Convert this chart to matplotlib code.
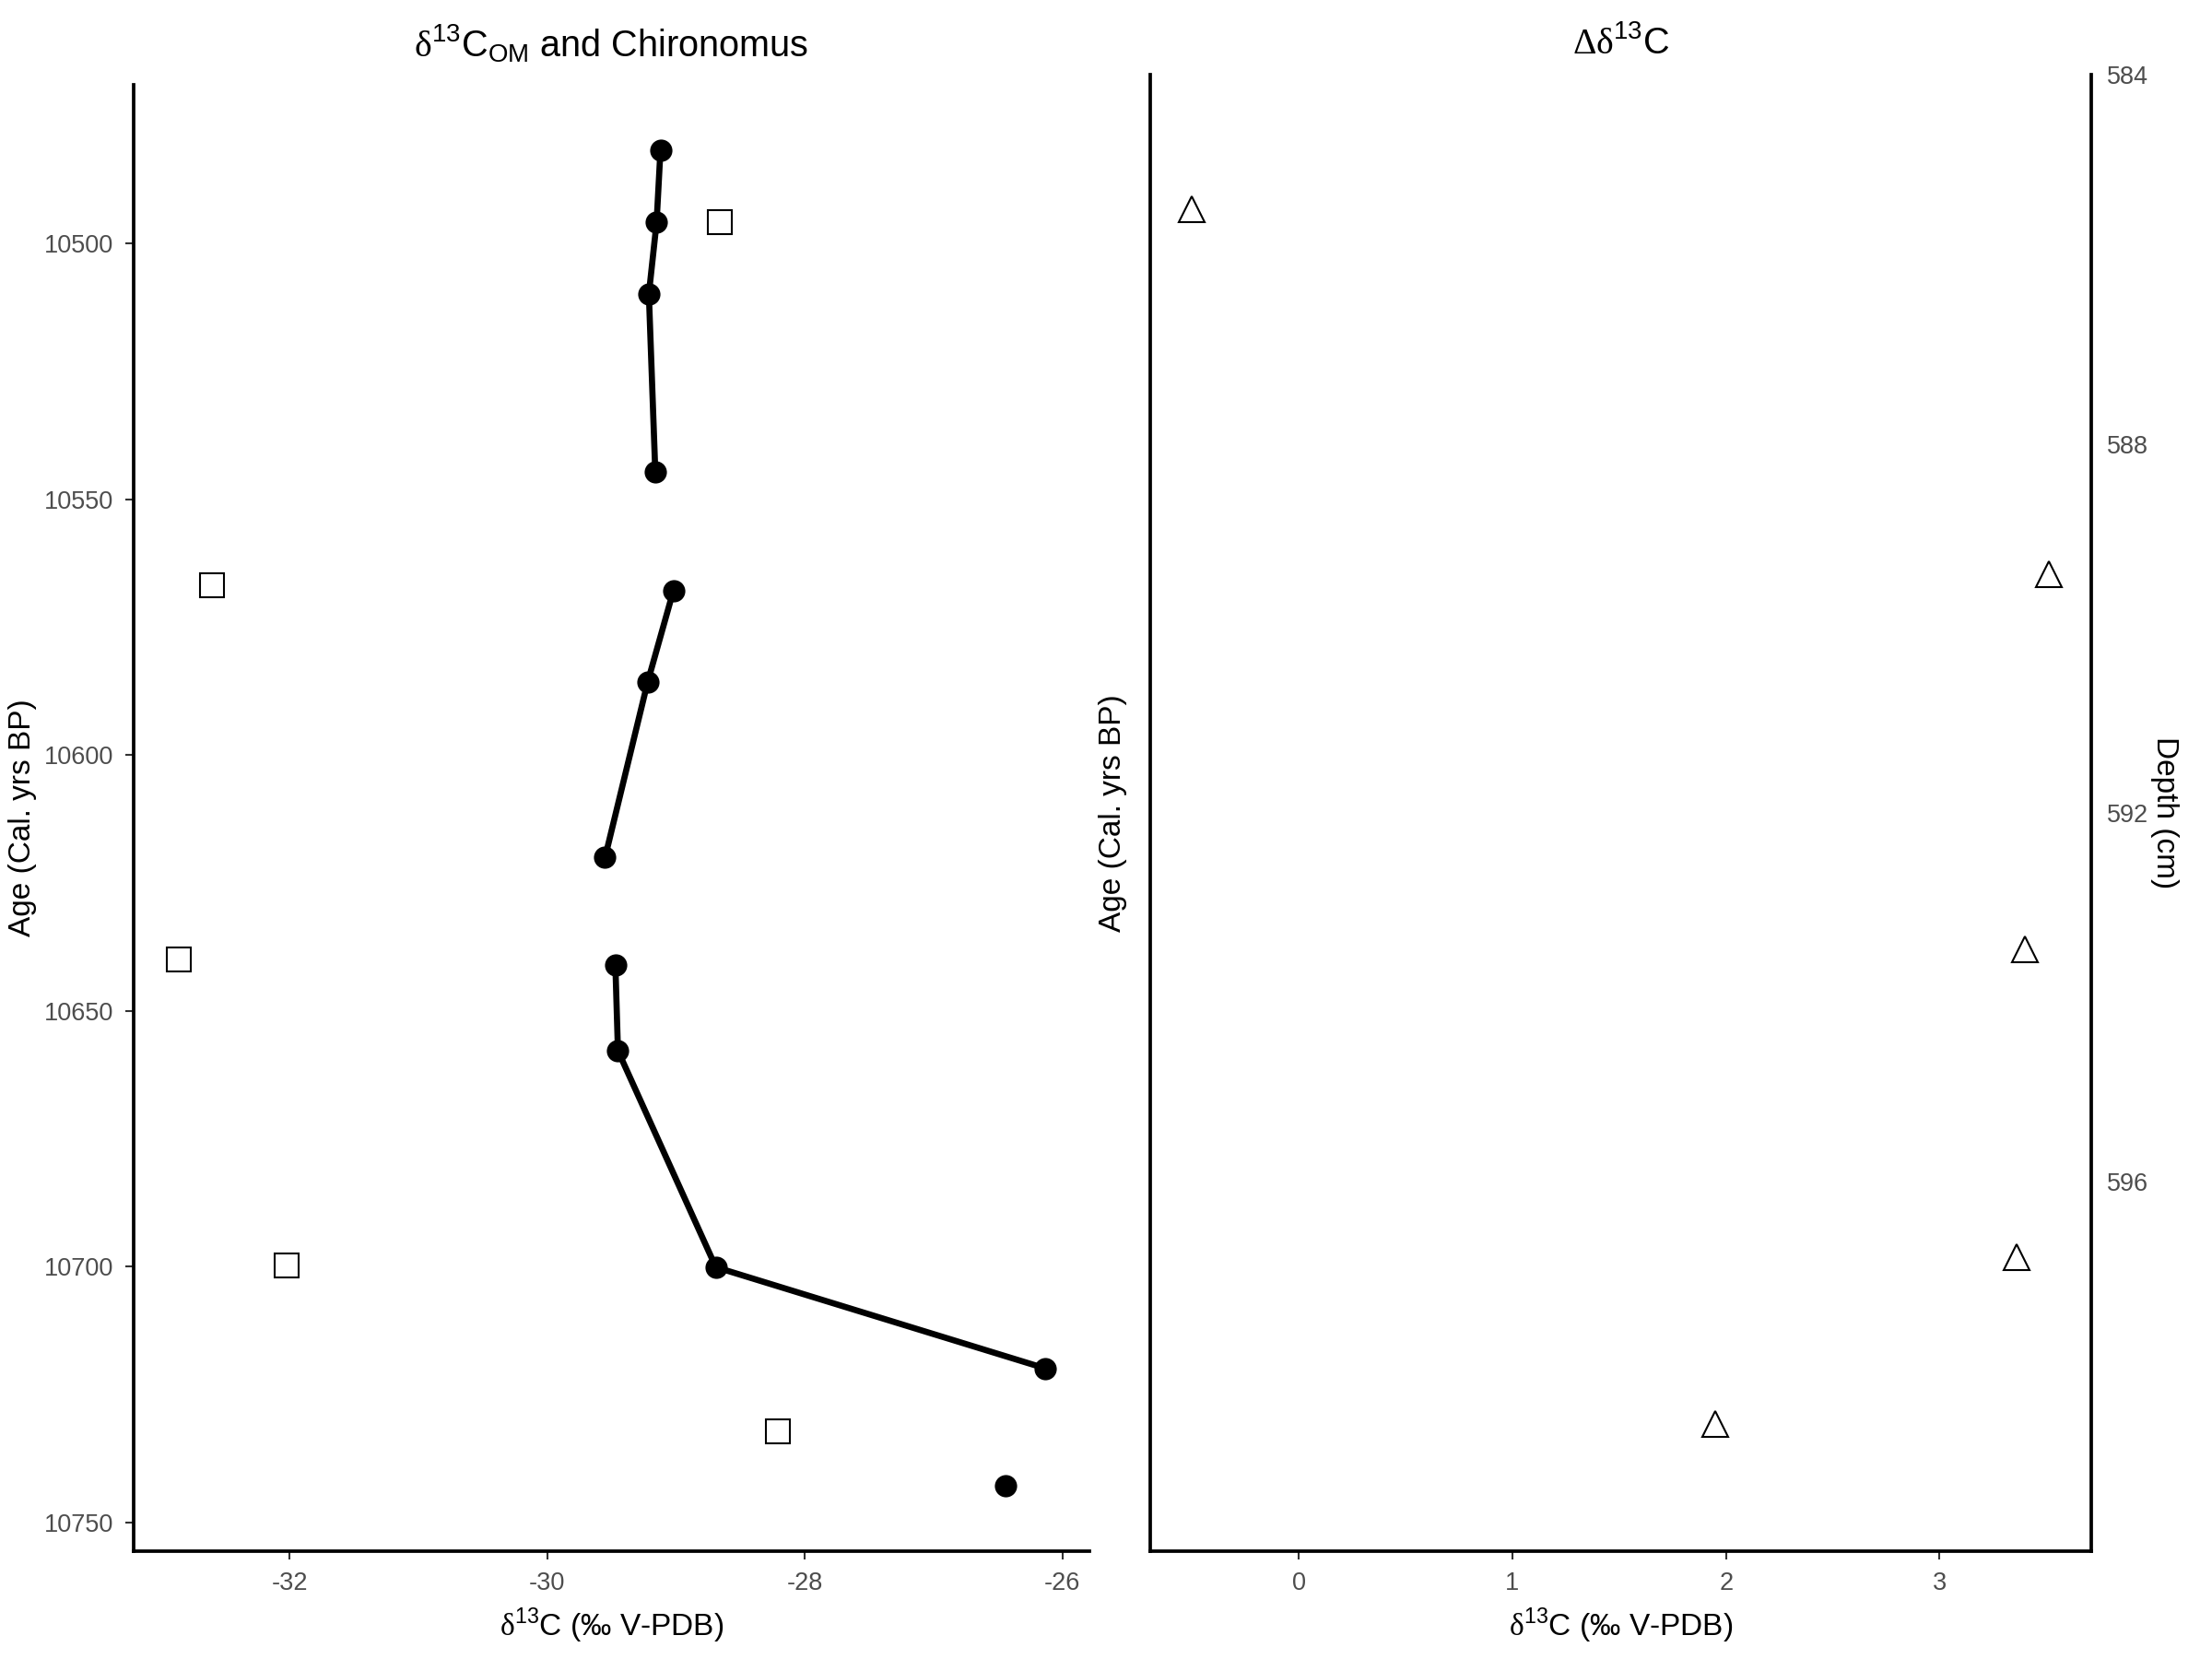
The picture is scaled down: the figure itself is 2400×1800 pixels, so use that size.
import matplotlib.pyplot as plt
import numpy as np

plt.rcParams['font.family'] = ['Liberation Sans', 'DejaVu Sans']
plt.rcParams['mathtext.fontset'] = 'custom'
plt.rcParams['mathtext.rm'] = 'Liberation Serif'
plt.rcParams['mathtext.sf'] = 'Liberation Sans'
plt.rcParams['axes.unicode_minus'] = False

# bulk organic matter d13C (line is broken into groups)
om_age = [10481.8, 10495.9, 10509.9, 10544.7, 10567.9, 10585.8, 10620.0,
          10641.0, 10657.8, 10700.1, 10719.9, 10742.8]
om_d13c = [-29.12, -29.15, -29.21, -29.16, -29.02, -29.22, -29.55,
           -29.47, -29.45, -28.69, -26.13, -26.44]
om_group = [1, 1, 1, 1, 2, 2, 2, 3, 3, 3, 3, 4]

# chironomus d13C
chir_age = [10495.9, 10566.8, 10639.9, 10699.8, 10732.1]
chir_d13c = [-28.66, -32.60, -32.86, -32.02, -28.21]

# difference OM - chironomus
delta_d13c = [-0.50, 3.51, 3.40, 3.36, 1.95]

age_ticks = [10500, 10550, 10600, 10650, 10700, 10750]
depth_ticks = [584, 588, 592, 596]

tick_col = '#4d4d4d'
xlab = r'$\mathrm{\delta}^{\mathsf{13}}$C (‰ V-PDB)'

fig = plt.figure(figsize=(8, 6), dpi=300)
ax1 = fig.add_axes([0.0604, 0.065, 0.4321, 0.8839])
ax2 = fig.add_axes([0.52, 0.065, 0.4254, 0.89])

# left panel
om_age_a = np.array(om_age)
om_d13c_a = np.array(om_d13c)
om_group_a = np.array(om_group)
for g in np.unique(om_group_a):
    m = om_group_a == g
    ax1.plot(om_d13c_a[m], om_age_a[m], '-', color='black', lw=1.6,
             marker='o', ms=4.8, solid_capstyle='butt')
ax1.plot(chir_d13c, chir_age, 's', ms=6.3, mfc='white', mec='black', mew=0.5)
ax1.set_xlim(-33.21, -25.79)
ax1.set_ylim(10755.6, 10469.0)
ax1.set_yticks(age_ticks)
ax1.set_xticks([-32, -30, -28, -26])
ax1.set_ylabel('Age (Cal. yrs BP)', fontsize=8, labelpad=2)
ax1.set_xlabel(xlab, fontsize=8, labelpad=3)
ax1.spines['top'].set_visible(False)
ax1.spines['right'].set_visible(False)
fig.text(0.2764, 0.974, r'$\mathrm{\delta}^{\mathsf{13}}$C$_{\mathsf{OM}}$ and Chironomus',
         ha='center', va='center', fontsize=9.5)

# right panel
ax2.plot(delta_d13c, chir_age, '^', ms=6.6, mfc='white', mec='black', mew=0.5)
ax2.set_xlim(-0.696, 3.71)
ax2.set_ylim(10756.9, 10469.7)
ax2.set_xticks([0, 1, 2, 3])
ax2.set_yticks([])
ax2.set_ylabel('Age (Cal. yrs BP)', fontsize=8, labelpad=6)
ax2.set_xlabel(xlab, fontsize=8, labelpad=3)
ax2.spines['top'].set_visible(False)
ax2.spines['right'].set_visible(False)
fig.text(0.7327, 0.974, r'$\mathrm{\Delta\delta}^{\mathsf{13}}$C',
         ha='center', va='center', fontsize=9.5)

# depth axis on the right
axd = ax2.twinx()
axd.set_ylim(600, 584)
axd.set_yticks(depth_ticks)
axd.tick_params(axis='y', length=0, pad=4, labelsize=6.5, labelcolor=tick_col)
axd.set_ylabel('Depth (cm)', fontsize=8, rotation=270, labelpad=8)
for s in ['top', 'left', 'bottom']:
    axd.spines[s].set_visible(False)
axd.spines['right'].set_linewidth(0.9)

for ax in [ax1, ax2]:
    ax.spines['left'].set_linewidth(0.9)
    ax.spines['bottom'].set_linewidth(0.9)
    ax.tick_params(length=2.2, width=0.5, color='#333333', labelsize=6.5,
                   labelcolor=tick_col, pad=3)

fig.savefig('out.png', dpi=300)
